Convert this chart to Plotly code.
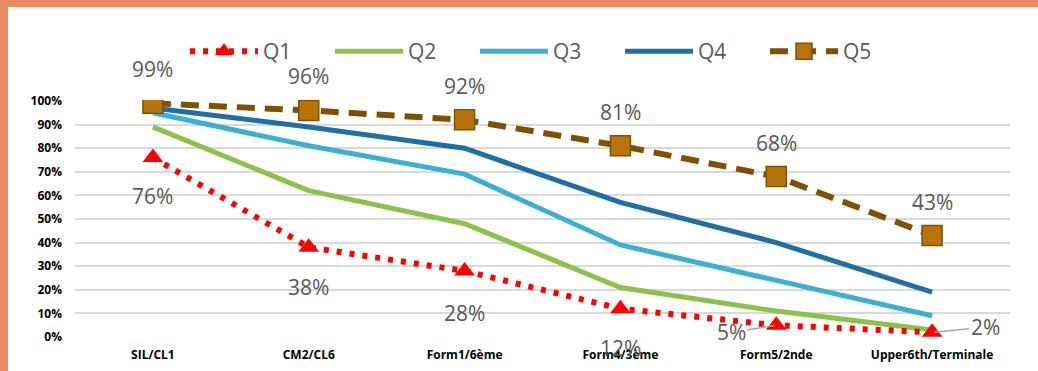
import plotly.graph_objects as go

# Categories (school levels) and share of each quintile per level
categories = ["SIL/CL1", "CM2/CL6", "Form1/6ème", "Form4/3ème", "Form5/2nde", "Upper6th/Terminale"]
q1 = [0.76, 0.38, 0.28, 0.12, 0.05, 0.02]
q2 = [0.89, 0.62, 0.48, 0.21, 0.11, 0.03]
q3 = [0.95, 0.81, 0.69, 0.39, 0.24, 0.09]
q4 = [0.97, 0.89, 0.80, 0.57, 0.40, 0.19]
q5 = [0.99, 0.96, 0.92, 0.81, 0.68, 0.43]
y_ticks = [0, 0.1, 0.2, 0.3, 0.4, 0.5, 0.6, 0.7, 0.8, 0.9, 1.0]

W, H = 1038, 371
ML, MR, MT, MB = 75, 28, 100, 33
LABEL_FONT = dict(family="Open Sans, Noto Sans, sans-serif", size=21, color="#595959")

fig = go.Figure()

fig.add_trace(go.Scatter(
    x=categories, y=q2, name="Q2", mode="lines",
    line=dict(color="#8BC34A", width=5), legendrank=2,
))
fig.add_trace(go.Scatter(
    x=categories, y=q3, name="Q3", mode="lines",
    line=dict(color="#3BB0D3", width=5), legendrank=3,
))
fig.add_trace(go.Scatter(
    x=categories, y=q4, name="Q4", mode="lines",
    line=dict(color="#1F6EA8", width=5), legendrank=4,
))
# Q1 drawn above the solid lines, Q5 on top of everything
fig.add_trace(go.Scatter(
    x=categories, y=q1, name="Q1", mode="lines+markers",
    line=dict(color="#FF0000", width=6, dash="5px,8px"),
    marker=dict(symbol="triangle-up", size=18, color="#FF0000"),
    legendrank=1,
))
fig.add_trace(go.Scatter(
    x=categories, y=q5, name="Q5", mode="lines+markers",
    line=dict(color="#7F5000", width=6, dash="18px,10px"),
    marker=dict(symbol="square", size=20, color="#B8740A",
                line=dict(color="#7F5200", width=1.5)),
    legendrank=5,
))

annotations = []
# Q5 values above the markers
for c, v in zip(categories, q5):
    annotations.append(dict(x=c, y=v, xref="x", yref="y", text=f"{round(v*100)}%",
                            showarrow=False, yshift=34, font=LABEL_FONT))
# Q1 values below the markers (last two with leader lines)
q1_shift = [-38, -40, -42, -39]
for c, v, s in zip(categories[:4], q1[:4], q1_shift):
    annotations.append(dict(x=c, y=v, xref="x", yref="y", text=f"{round(v*100)}%",
                            showarrow=False, yshift=s, font=LABEL_FONT))
annotations.append(dict(x=categories[4], y=q1[4], xref="x", yref="y",
                        text=f"{round(q1[4]*100)}%", showarrow=True, arrowhead=0,
                        arrowwidth=1.5, arrowcolor="#A6A6A6", ax=-45, ay=7,
                        standoff=2, font=LABEL_FONT))
annotations.append(dict(x=categories[5], y=q1[5], xref="x", yref="y",
                        text=f"{round(q1[5]*100)}%", showarrow=True, arrowhead=0,
                        arrowwidth=1.5, arrowcolor="#A6A6A6", ax=53, ay=-5,
                        standoff=2, font=LABEL_FONT))

pw = W - ML - MR
ph = H - MT - MB
def px_x(p):
    return (p - ML) / pw
def px_y(p):
    return (H - MB - p) / ph

# Orange frame along the top and left edges
shapes = [
    dict(type="rect", xref="paper", yref="paper", x0=px_x(0), x1=px_x(W), y0=px_y(7), y1=px_y(0),
         fillcolor="#EA8A62", line=dict(width=0), layer="above"),
    dict(type="rect", xref="paper", yref="paper", x0=px_x(0), x1=px_x(8), y0=px_y(H), y1=px_y(0),
         fillcolor="#EA8A62", line=dict(width=0), layer="above"),
]

fig.update_layout(
    width=W, height=H,
    margin=dict(l=ML, r=MR, t=MT, b=MB, autoexpand=False),
    paper_bgcolor="white", plot_bgcolor="white",
    font=dict(family="Open Sans, Noto Sans, sans-serif"),
    showlegend=True,
    legend=dict(orientation="h", x=px_x(185), y=px_y(31), xanchor="left", yanchor="top",
                font=dict(size=21, color="#595959"), entrywidth=62, entrywidthmode="pixels",
                itemwidth=68, bgcolor="rgba(0,0,0,0)"),
    xaxis=dict(type="category", range=[-0.5, 5.5], showgrid=False, zeroline=False, showline=False,
               ticks="", tickfont=dict(size=12, color="#000000", family="Open Sans, sans-serif", weight="bold"),
               ticklabelstandoff=8),
    yaxis=dict(range=[-0.004, 1.004], tickvals=y_ticks, tickformat=".0%",
               showgrid=True, gridcolor="#D9D9D9", gridwidth=2,
               zeroline=False, showline=False, ticks="",
               tickfont=dict(size=12, color="#000000", family="Open Sans, sans-serif", weight="bold"),
               ticklabelstandoff=12),
    annotations=annotations,
    shapes=shapes,
)

fig.write_html("out.html")
